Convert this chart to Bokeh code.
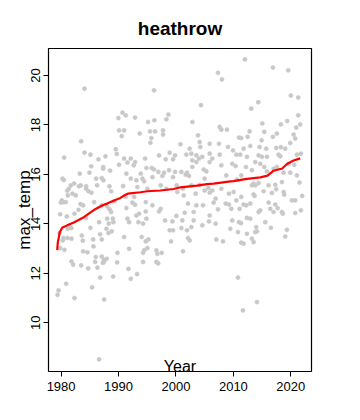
import math
from bokeh.plotting import figure
from bokeh.models import Range1d, FixedTicker, Label, ColumnDataSource
from bokeh.embed import file_html
from bokeh.resources import INLINE

# ---- data ----
year = [
 1984.07,1983.49,1980.53,1984.07,1985.11,1986.50,1987.72,1985.23,1987.32,1987.32,1988.53,1983.26,1984.94,
 1980.24,1980.48,1986.10,1987.08,1987.37,1982.27,1981.69,1981.35,1981.06,1983.09,1983.43,1984.36,1984.36,
 1984.77,1985.29,1986.27,1988.42,1988.71,1981.98,1982.56,1981.17,1980.13,1980.42,1979.95,1980.82,1983.38,
 1983.84,1985.75,1987.08,1988.01,1988.42,1988.71,1979.84,1981.00,1982.33,1983.03,1984.36,1986.62,1988.01,
 1988.30,1989.00,1989.11,1981.52,1981.17,1981.81,1985.11,1986.80,1988.24,1988.82,1987.90,1979.72,1980.42,
 1980.30,1981.11,1981.81,1983.61,1983.78,1985.58,1987.08,1979.84,1980.59,1985.64,1983.84,1984.59,1986.04,
 1987.08,1987.43,1987.95,1987.49,1981.81,1982.10,1983.49,1984.71,1985.93,1986.33,1987.26,1989.06,1986.80,
 1980.88,1979.55,1979.38,1985.40,1982.33,1987.49,1986.62,1989.76,1996.90,
 1996.19,1989.98,1990.68,1991.26,1992.88,1995.14,1996.24,1998.68,1998.33,1990.10,1990.97,1990.56,1993.69,
 1995.49,1996.36,1997.75,1997.75,1995.72,1995.55,1989.52,1989.69,1990.97,1991.55,1992.13,1992.88,1992.65,
 1994.62,1997.06,1998.91,1999.84,1999.49,1998.22,1990.10,1994.85,1995.78,1996.19,1996.94,1997.93,1998.80,
 1999.84,1991.37,1993.87,1992.13,1993.11,1994.16,1994.45,1995.90,1997.64,1999.49,1990.80,1993.29,1995.03,
 1997.35,1998.33,2000.13,2000.24,1991.26,1992.71,1992.42,1991.37,1992.88,1989.23,1994.74,1995.90,1997.06,
 1997.35,1993.58,1994.74,1993.11,1991.55,1991.84,1993.46,1994.27,1994.85,1998.10,1999.38,1998.91,1999.49,
 1990.97,1994.04,1994.74,1995.20,1999.14,1991.84,1994.27,1994.51,1995.03,1996.59,1996.77,1997.52,1989.81,
 1994.27,1996.59,1991.72,1992.13,1993.23,
 2007.32,2008.01,2004.36,2002.85,2007.61,2007.90,2008.88,2003.84,2010.97,2000.77,2004.13,2004.24,2005.87,
 2007.49,2009.06,2002.39,2001.81,2002.68,2003.55,2004.01,2004.59,2002.85,2005.87,2006.33,2007.61,2009.93,
 2010.51,2003.55,2005.87,2007.90,2009.81,2010.39,2000.94,2001.93,2002.85,2004.82,2005.29,2001.69,2002.27,
 2005.00,2008.77,2011.37,2010.62,2001.23,2002.68,2004.13,2005.64,2006.33,2007.90,2001.35,2003.43,2005.00,
 2005.87,2006.91,2009.23,2010.04,2010.51,2011.37,2002.10,2003.55,2004.71,2006.56,2007.32,2008.65,2009.23,
 2009.64,2011.08,2001.52,2003.08,2005.87,2000.07,2001.11,2003.08,2005.75,2006.91,2009.81,2010.97,2000.94,
 2001.93,2002.68,2004.59,2009.46,2010.80,2002.10,2002.39,2007.03,2008.19,2011.37,2001.23,2010.80,
 2012.01,2016.88,2019.55,2020.01,2021.29,2014.33,2013.11,2015.03,2018.27,2019.37,2021.29,2021.63,2020.94,
 2012.82,2015.37,2016.88,2017.58,2020.48,2020.77,2012.48,2011.37,2014.91,2014.56,2012.94,2015.72,2017.46,
 2018.27,2019.03,2019.90,2021.75,2011.78,2011.20,2012.36,2014.39,2014.97,2015.84,2017.87,2018.16,2021.06,
 2012.19,2013.81,2014.68,2015.37,2017.00,2017.58,2019.61,2020.60,2013.23,2015.84,2018.74,2019.90,2021.06,
 2013.52,2013.81,2014.39,2016.13,2017.29,2018.45,2021.52,2013.23,2013.52,2013.69,2015.26,2016.71,2017.46,
 2018.74,2018.85,2020.19,2020.77,2021.98,2011.78,2012.24,2012.94,2016.13,2017.29,2017.70,2018.62,2018.45,
 2014.68,2014.39,2016.42,2017.00,2021.75,2020.77,2012.36,2012.94,2011.32,2015.55,2013.98,2016.53,2019.32,
 2012.36,2013.81,2014.10,2019.03,2013.23,2013.52,2011.78,2014.10,2011.66,
]
max_temp = [
 19.47,17.34,16.68,16.88,16.80,16.61,16.73,16.33,16.30,16.23,16.15,16.03,16.07,
 15.83,15.77,15.83,15.85,15.76,15.63,15.56,15.42,15.34,15.52,15.56,15.52,15.42,
 15.32,15.26,15.56,15.52,15.32,15.22,15.15,15.15,14.95,14.88,14.86,14.88,14.80,
 14.75,14.88,14.75,14.71,14.59,14.48,14.39,14.30,14.41,14.57,14.24,14.07,14.21,
 14.01,14.21,14.07,13.87,13.80,13.83,13.84,13.58,13.63,13.70,13.80,13.63,13.43,
 13.33,13.43,13.40,13.53,13.32,13.37,13.37,13.02,12.95,13.09,12.89,12.85,12.66,
 12.68,12.55,12.59,12.47,12.48,12.35,12.32,12.20,12.46,12.23,12.42,11.87,11.83,
 11.58,11.31,11.13,11.43,11.00,10.94,8.52,12.44,12.40,
 19.40,18.28,18.50,18.39,18.30,18.12,18.19,18.42,18.23,17.78,17.78,17.55,17.65,
 17.74,17.74,17.78,17.61,17.47,17.28,17.02,16.83,16.64,16.48,16.64,16.50,16.37,
 16.64,16.77,16.88,16.77,16.61,16.61,16.39,16.26,16.26,16.20,16.10,16.07,16.17,
 16.10,16.03,16.03,15.83,15.76,15.83,15.72,15.89,15.94,15.89,15.53,15.49,15.42,
 15.56,15.42,15.56,15.29,15.09,15.09,14.86,14.64,14.77,14.91,14.88,14.75,14.50,
 14.61,14.41,14.50,14.34,14.21,14.07,14.07,14.01,14.21,14.14,14.10,13.74,13.74,
 13.47,13.47,13.29,13.37,13.29,12.99,12.83,12.94,13.02,12.93,12.79,12.83,12.83,
 12.46,12.46,12.18,11.78,11.97,
 20.11,19.84,18.80,18.12,17.92,17.81,17.81,17.58,17.49,17.22,17.31,17.11,17.24,
 17.24,17.11,17.04,16.80,16.84,16.77,16.64,16.71,16.57,16.84,16.64,16.80,16.97,
 16.80,16.50,16.50,16.37,16.43,16.34,16.10,16.07,16.30,16.20,16.12,15.99,15.94,
 15.83,15.96,15.96,15.79,15.42,15.56,15.58,15.45,15.35,15.42,15.15,15.22,15.35,
 15.26,15.02,15.22,15.29,14.95,15.09,14.82,14.75,14.75,14.86,14.59,14.82,14.78,
 14.61,14.61,14.45,14.48,14.34,14.32,14.14,14.14,14.10,14.01,14.14,14.07,13.83,
 13.74,13.87,13.94,13.80,13.67,13.43,13.33,13.37,13.29,13.24,12.89,11.83,
 20.65,20.32,20.21,19.19,19.11,18.92,18.66,18.06,18.02,18.16,18.39,18.02,17.89,
 17.74,17.72,17.52,17.65,17.61,17.45,17.52,17.47,17.38,17.11,17.15,17.04,17.07,
 17.10,17.04,17.27,16.84,17.04,16.80,16.71,16.77,16.71,16.71,16.80,16.73,16.80,
 16.30,16.50,16.43,16.30,16.23,16.30,16.43,16.39,16.17,16.12,16.07,16.07,15.96,
 15.63,15.56,15.65,15.56,15.58,15.69,15.67,15.56,15.19,15.13,15.32,15.25,15.40,
 15.29,15.18,14.95,14.95,15.13,14.78,14.75,14.82,14.86,14.78,14.64,14.41,14.48,
 14.55,14.48,14.61,14.48,14.55,14.44,14.24,14.21,14.03,14.07,13.87,13.84,13.76,
 13.60,13.67,13.70,13.49,13.40,13.26,13.20,10.84,10.50,
]

trend_year = [1979.32,1979.43,1979.60,1979.77,1980.19,1981.06,1982.21,1983.37,1983.95,1985.69,1987.15,1988.10,
              1989.76,1990.33,1991.20,1991.60,1993.81,1995.00,1997.29,1999.60,2000.77,2003.67,2005.40,2006.56,
              2009.46,2010.00,2012.37,2014.68,2015.95,2017.00,2018.16,2018.45,2019.32,2019.90,2020.47,2021.63]
trend_temp = [12.94,13.25,13.45,13.66,13.84,13.94,14.06,14.20,14.27,14.56,14.74,14.83,
              15.00,15.05,15.18,15.22,15.28,15.32,15.35,15.41,15.48,15.55,15.61,15.63,
              15.72,15.73,15.82,15.88,15.95,16.15,16.22,16.23,16.42,16.49,16.56,16.65]

x_ticks = [1980, 1990, 2000, 2010, 2020]
y_ticks = [10, 12, 14, 16, 18, 20]

title_text = "heathrow"
x_label = "Year"
y_label = "max_temp"

FONT = "Liberation Sans"

p = figure(width=352, height=412, output_backend="svg", toolbar_location=None,
           x_range=Range1d(1977.806, 2023.6), y_range=Range1d(8.031, 21.092),
           min_border_left=48, min_border_right=41, min_border_top=48, min_border_bottom=41)
p.background_fill_color = "white"
p.border_fill_color = "white"
p.outline_line_color = "black"
p.outline_line_width = 1.2
p.grid.visible = False

p.title.text = title_text
p.title.align = "center"
p.title.text_font = FONT
p.title.text_font_size = "19px"
p.title.text_font_style = "bold"
p.title.text_color = "black"
p.title.standoff = 20

for ax in (p.xaxis[0], p.yaxis[0]):
    ax.axis_line_color = None
    ax.major_tick_line_color = "black"
    ax.major_tick_line_width = 1
    ax.major_tick_out = 5
    ax.major_tick_in = 0
    ax.minor_tick_line_color = None
    ax.major_label_text_font = FONT
    ax.major_label_text_font_size = "13px"
    ax.major_label_text_color = "black"

p.xaxis.ticker = FixedTicker(ticks=x_ticks)
p.yaxis.ticker = FixedTicker(ticks=y_ticks)
p.xaxis.major_label_standoff = 5
p.yaxis.major_label_standoff = 3
p.yaxis.major_label_orientation = "parallel"

p.yaxis.axis_label = y_label
p.yaxis.axis_label_text_font = FONT
p.yaxis.axis_label_text_font_size = "17px"
p.yaxis.axis_label_text_font_style = "normal"
p.yaxis.axis_label_text_color = "black"
p.yaxis.axis_label_standoff = -5

src = ColumnDataSource(dict(x=year, y=max_temp))
p.scatter("x", "y", source=src, size=4.2, fill_color="#C8C8C8", line_color="#C8C8C8", line_width=0.5)
p.line(trend_year, trend_temp, line_color="#FF0000", line_width=2.2)

p.add_layout(Label(x=131.5, y=5, x_units="screen", y_units="screen", text=x_label,
                   text_font=FONT, text_font_size="16px",
                   text_align="center", text_baseline="alphabetic", text_color="black"))

open("out.html", "w").write(file_html(p, INLINE))
